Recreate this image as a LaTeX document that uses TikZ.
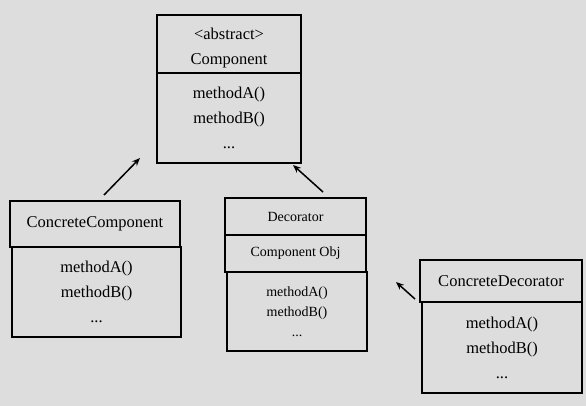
\documentclass[tikz,border=0pt]{standalone}
\usepackage{fontspec}
\setmainfont{Liberation Serif}
\usetikzlibrary{arrows.meta,calc}
\definecolor{bg}{RGB}{221,221,221}
\tikzset{
  box/.style={draw=black, line width=2pt, fill=bg, inner sep=0pt, align=center,
    font=\fontsize{16.5}{25}\selectfont},
  smallbox/.style={box, font=\fontsize{14}{20}\selectfont},
  inherit/.style={line width=1.5pt, -{Stealth[length=8pt,width=6.5pt]}}
}
\begin{document}
\begin{tikzpicture}[x=1pt,y=-1pt]
\fill[bg] (0,0) rectangle (586,406);
\useasboundingbox (0,0) rectangle (586,406);
% Component
\node[box, minimum width=144, minimum height=58] (comph) at (229,44) {\rule{0pt}{20pt}<abstract>\\Component};
\node[box, minimum width=144, minimum height=90] (compb) at (229,118) {methodA()\\methodB()\\...};
% ConcreteComponent
\node[box, minimum width=170, minimum height=46] (cch) at (95,224) {ConcreteComponent};
\node[box, minimum width=169, minimum height=90] (ccb) at (96.5,292) {methodA()\\methodB()\\...};
% Decorator
\node[smallbox, minimum width=141, minimum height=37] (dech) at (295.5,216.5) {Decorator};
\node[smallbox, minimum width=141, minimum height=37] (deco) at (295.5,253.5) {Component Obj};
\node[smallbox, minimum width=140, minimum height=79] (decb) at (297,311.5) {methodA()\\methodB()\\...};
% ConcreteDecorator
\node[box, minimum width=162, minimum height=42] (cdh) at (501,281) {ConcreteDecorator};
\node[box, minimum width=160, minimum height=91] (cdb) at (502,347.5) {methodA()\\methodB()\\...};
% connector ends
\coordinate (a1s) at ($(cch.north)+(9,-5)$);
\coordinate (a1e) at ($(compb.south west)+(-16,-6)$);
\coordinate (a2s) at ($(dech.north)+(27.5,-5)$);
\coordinate (a2e) at ($(compb.south east)+(-9,1)$);
\coordinate (a3s) at ($(cdh.south west)+(-4,-4)$);
\coordinate (a3e) at ($(cdh.south west)+(-23,-21)$);
\draw[inherit] (a1s) -- (a1e);
\draw[inherit] (a2s) -- (a2e);
\draw[inherit] (a3s) -- (a3e);
\end{tikzpicture}
\end{document}
